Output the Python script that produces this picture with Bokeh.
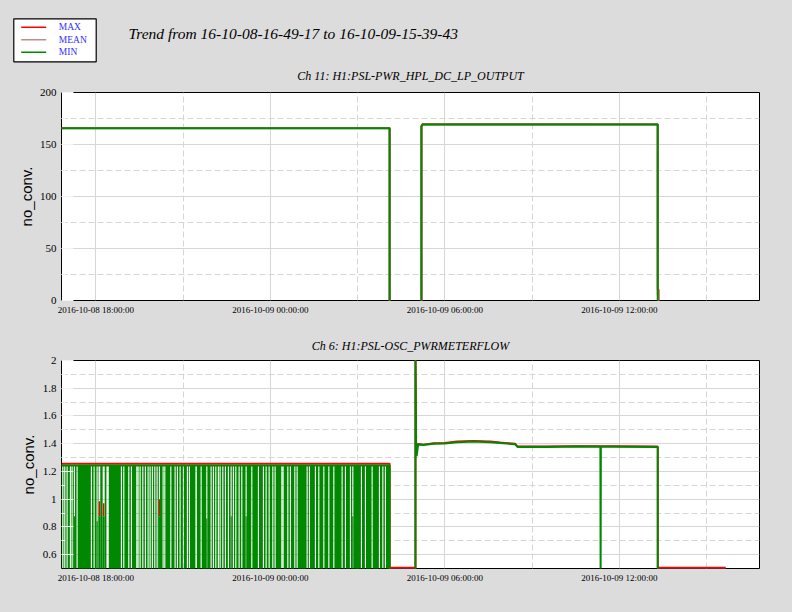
import pandas as pd
from jinja2 import Template
from bokeh.plotting import figure
from bokeh.layouts import column
from bokeh.models import Range1d, FixedTicker, DatetimeTickFormatter, ColumnDataSource
from bokeh.core.properties import value
from bokeh.embed import file_html
from bokeh.resources import INLINE

# ---------------- texts ----------------
main_title = "Trend from 16-10-08-16-49-17 to 16-10-09-15-39-43"
ch11_title = "Ch 11: H1:PSL-PWR_HPL_DC_LP_OUTPUT"
ch6_title = "Ch 6: H1:PSL-OSC_PWRMETERFLOW"
y_label = "no_conv."
legend_labels = ["MAX", "MEAN", "MIN"]

# ---------------- time axis ----------------
t_start = "2016-10-08 16:49:17"
t_range_end = "2016-10-09 16:49:17"
x_major_ticks = ["2016-10-08 18:00:00", "2016-10-09 00:00:00",
                 "2016-10-09 06:00:00", "2016-10-09 12:00:00"]
x_minor_ticks = ["2016-10-08 21:00:00", "2016-10-09 03:00:00",
                 "2016-10-09 09:00:00", "2016-10-09 15:00:00"]

# ---------------- Ch 11 ----------------
ch11_y_ticks = [0, 50, 100, 150, 200]
ch11_y_minor = [25, 75, 125, 175]
ch11_time = ["2016-10-08 16:49:17", "2016-10-09 04:06:15", "2016-10-09 04:06:16",
             "2016-10-09 05:11:50", "2016-10-09 05:11:51", "2016-10-09 05:14:00",
             "2016-10-09 13:19:20", "2016-10-09 13:19:21", "2016-10-09 13:21:00",
             "2016-10-09 13:21:01", "2016-10-09 15:39:43"]
ch11_max = [165.8, 165.8, -1.5, -1.5, 167.6, 169.4, 169.5, 10.6, 10.6, -1.5, -1.5]
ch11_mean = [165.7, 165.7, -1.5, -1.5, 167.5, 169.3, 169.4, 5.0, 5.0, -1.5, -1.5]
ch11_min = [165.6, 165.6, -1.5, -1.5, 167.4, 169.2, 169.3, -1.5, -1.5, -1.5, -1.5]

# ---------------- Ch 6 ----------------
ch6_y_ticks = [0.6, 0.8, 1.0, 1.2, 1.4, 1.6, 1.8, 2.0]
ch6_y_minor = [0.7, 0.9, 1.1, 1.3, 1.5, 1.7, 1.9]
ch6_time = ["2016-10-08 16:49:17", "2016-10-09 04:06:16", "2016-10-09 04:06:17",
            "2016-10-09 04:59:32", "2016-10-09 04:59:33", "2016-10-09 05:00:55",
            "2016-10-09 05:02:00", "2016-10-09 05:05:00", "2016-10-09 05:16:00",
            "2016-10-09 05:37:00", "2016-10-09 06:00:00", "2016-10-09 06:25:00",
            "2016-10-09 06:59:00", "2016-10-09 07:34:00", "2016-10-09 07:54:00",
            "2016-10-09 08:25:00", "2016-10-09 08:30:00", "2016-10-09 09:30:00",
            "2016-10-09 10:39:00", "2016-10-09 11:21:00", "2016-10-09 11:21:30",
            "2016-10-09 11:22:00", "2016-10-09 11:48:00", "2016-10-09 13:17:00",
            "2016-10-09 13:19:20", "2016-10-09 13:19:21", "2016-10-09 15:39:43"]
ch6_max = [1.257, 1.257, 0.506, 0.506, 2.05, 1.388, 1.390, 1.398, 1.394, 1.404,
           1.406, 1.416, 1.420, 1.416, 1.409, 1.400, 1.381, 1.381, 1.383, 1.382,
           1.382, 1.382, 1.382, 1.380, 1.380, 0.506, 0.506]
ch6_mean = [1.247, 1.247, 0.497, 0.497, 2.05, 1.385, 1.36, 1.396, 1.392, 1.402,
            1.403, 1.413, 1.418, 1.413, 1.407, 1.398, 1.379, 1.379, 1.381, 1.380,
            1.380, 1.380, 1.380, 1.378, 1.378, 0.497, 0.497]
ch6_min = [1.242, 1.242, 0.490, 0.490, 2.05, 1.382, 1.310, 1.394, 1.390, 1.400,
           1.401, 1.411, 1.416, 1.411, 1.405, 1.396, 1.377, 1.377, 1.379, 1.378,
           0.490, 1.378, 1.378, 1.376, 1.376, 0.490, 0.490]

# MIN dropouts during the first run (hours after start): MIN falls to the floor
# everywhere in [0, ch6_dropout_end_h] except at these short "no dropout" gaps.
ch6_dropout_end_h = 11.283
ch6_min_low = 0.45
ch6_gap_hours = [0.045, 0.113, 0.193, 0.306, 0.365, 0.444, 0.536, 1.028, 1.121, 1.224,
                 1.303, 1.450, 1.585, 2.060, 2.142, 2.314, 2.404, 2.589, 2.634, 2.703,
                 2.796, 2.885, 2.978, 3.047, 3.126, 3.208, 3.287, 3.367, 3.494, 3.552,
                 3.759, 3.906, 3.986, 4.078, 4.192, 4.329, 4.398, 4.629, 4.801, 4.997,
                 5.144, 5.224, 5.306, 5.395, 5.454, 5.547, 5.636, 5.739, 5.832, 5.911,
                 5.994, 6.107, 6.200, 6.348, 6.544, 6.771, 6.943, 7.036, 7.139, 7.266,
                 7.345, 7.576, 7.620, 7.782, 7.871, 8.023, 8.102, 8.446, 8.525, 8.731,
                 8.848, 9.020, 9.192, 9.364, 9.649, 9.763, 9.935, 10.017, 10.313, 10.451,
                 10.681, 10.932, 11.049, 11.138]
ch6_wide_gaps = {1.303: 0.06, 1.450: 0.07, 1.585: 0.08, 4.629: 0.05}
ch6_gap_default_w = 0.038
# gaps where MIN only drops part of the way (value it reaches)
ch6_partial_floor = {0.444: 0.877, 1.224: 0.84, 1.303: 0.877, 1.450: 0.877,
                     3.367: 0.877, 4.997: 0.86, 5.832: 0.877, 6.348: 0.877, 10.017: 0.877}
# MAX dips inside some gaps (value reached)
ch6_max_dips = {1.303: 0.985, 1.450: 0.97, 3.367: 1.0}

# ---------------- style ----------------
BG = "#dcdcdc"
RED = "#ff0000"
MEANC = "#c08c8c"
GREEN = "#008800"
GRID = "#d6d6d6"
SERIF = "Liberation Serif"
SANS = "Liberation Sans"
W = 792

T0 = pd.Timestamp(t_start)


def ms(ts):
    return [pd.Timestamp(t).value // 10**6 for t in ts]


def at_hours(h):
    return T0 + pd.to_timedelta(h, unit="h")


def make_plot(title, height, b_top, b_bottom, yr, yt, ym, lab_standoff, t_standoff):
    p = figure(width=W, height=height, x_axis_type="datetime",
               x_range=Range1d(pd.Timestamp(t_start), pd.Timestamp(t_range_end)),
               y_range=Range1d(*yr), output_backend="svg", toolbar_location=None,
               min_border_left=61, min_border_right=33,
               min_border_top=b_top, min_border_bottom=b_bottom,
               border_fill_color=BG, background_fill_color="white",
               outline_line_color="black", outline_line_width=1)
    if title is None:
        p.title = None
    else:
        p.title.text = title
        p.title.align = "center"
        p.title.text_font = SERIF
        p.title.text_font_style = "italic"
        p.title.text_font_size = "12px"
        p.title.text_color = "black"
        p.title.standoff = t_standoff

    p.xaxis.ticker = FixedTicker(ticks=ms(x_major_ticks), minor_ticks=ms(x_minor_ticks))
    fmt = "%Y-%m-%d %H:%M:%S"
    p.xaxis.formatter = DatetimeTickFormatter(
        microseconds=fmt, milliseconds=fmt, seconds=fmt, minsec=fmt, minutes=fmt,
        hourmin=fmt, hours=fmt, days=fmt, months=fmt, years=fmt)
    p.yaxis.ticker = FixedTicker(ticks=yt, minor_ticks=ym)

    p.axis.axis_line_color = None
    p.xaxis.major_tick_in = 0
    p.xaxis.major_tick_out = 0
    p.xaxis.minor_tick_in = 0
    p.xaxis.minor_tick_out = 0
    p.yaxis.major_tick_in = 12
    p.yaxis.major_tick_out = 0
    p.yaxis.minor_tick_in = 4
    p.yaxis.minor_tick_out = 0
    p.yaxis.major_tick_line_color = "#f2f2f2"
    p.yaxis.minor_tick_line_color = "#f2f2f2"

    p.xaxis.major_label_text_font = SERIF
    p.xaxis.major_label_text_font_size = "9px"
    p.xaxis.major_label_standoff = 4
    p.yaxis.major_label_text_font = SERIF
    p.yaxis.major_label_text_font_size = "11px"
    p.yaxis.major_label_standoff = 5
    p.axis.major_label_text_color = "black"

    p.yaxis.axis_label = y_label
    p.yaxis.axis_label_text_font = SANS
    p.yaxis.axis_label_text_font_style = "normal"
    p.yaxis.axis_label_text_font_size = "15px"
    p.yaxis.axis_label_text_color = "black"
    p.yaxis.axis_label_standoff = lab_standoff

    for g in (p.xgrid, p.ygrid):
        g.grid_line_color = GRID
        g.grid_line_width = 1
        g.minor_grid_line_color = GRID
        g.minor_grid_line_dash = "6 3"
        g.minor_grid_line_width = 1
    return p


# ---------------- header (legend, main title, Ch 11 title) ----------------
HDR_H = 84
hdr = figure(width=W, height=HDR_H, x_range=Range1d(0, W), y_range=Range1d(HDR_H, 0),
             x_axis_type=None, y_axis_type=None, output_backend="svg",
             toolbar_location=None, min_border=0, min_border_left=0, min_border_right=0,
             min_border_top=0, min_border_bottom=0, border_fill_color=BG,
             background_fill_color=BG, outline_line_color=None)
hdr.frame_align = False
hdr.quad(left=[13.3], right=[95.7], top=[18.3], bottom=[61.3],
         fill_color="white", line_color="black", line_width=1.2)
leg_y = [26.7, 39.3, 51.7]
hdr.segment(x0=[20.7] * 3, x1=[45.7] * 3, y0=leg_y, y1=leg_y,
            line_color=[RED, MEANC, GREEN], line_width=1.5)
hdr.text(x=[58.3] * 3, y=leg_y, text=legend_labels, text_font=value(SERIF),
         text_font_size="9.5px", text_color="#3030ff", text_baseline="middle",
         text_align="left")
hdr.text(x=[128], y=[33], text=[main_title], text_font=value(SERIF),
         text_font_style="italic", text_font_size="15.5px", text_color="black",
         text_baseline="middle", text_align="left")
hdr.text(x=[410], y=[75], text=[ch11_title], text_font=value(SERIF),
         text_font_style="italic", text_font_size="12px", text_color="black",
         text_baseline="middle", text_align="center")

# ---------------- Ch 11 plot ----------------
p1 = make_plot(None, 244, 8, 28, (0, 200), ch11_y_ticks, ch11_y_minor, 2, 0)
s11 = ColumnDataSource(dict(t=pd.to_datetime(ch11_time), mx=ch11_max, mn=ch11_mean, mi=ch11_min))
p1.line("t", "mx", source=s11, line_color=RED, line_width=2)
p1.line("t", "mn", source=s11, line_color=MEANC, line_width=2)
p1.line("t", "mi", source=s11, line_color=GREEN, line_width=2)

# ---------------- Ch 6 plot ----------------
p2 = make_plot(ch6_title, 282, 32, 42, (0.5, 2.0), ch6_y_ticks, ch6_y_minor, 3, 16)
s6 = ColumnDataSource(dict(t=pd.to_datetime(ch6_time), mx=ch6_max, mn=ch6_mean, mi=ch6_min))
p2.line("t", "mn", source=s6, line_color=MEANC, line_width=1.5)
p2.line("t", "mx", source=s6, line_color=RED, line_width=1.8)

# dropout bands of MIN (complement of the gaps)
lefts, rights = [], []
cur = 0.0
for c in ch6_gap_hours:
    w = ch6_wide_gaps.get(c, ch6_gap_default_w)
    if c - w / 2 > cur:
        lefts.append(cur)
        rights.append(c - w / 2)
    cur = c + w / 2
lefts.append(cur)
rights.append(ch6_dropout_end_h)
top_level = ch6_min[0]
band = ColumnDataSource(dict(l=at_hours(lefts), r=at_hours(rights),
                             b=[ch6_min_low] * len(lefts), tp=[top_level] * len(lefts)))

# partial drops inside gaps
pl, pr, pt = [], [], []
for c, fl in ch6_partial_floor.items():
    w = ch6_wide_gaps.get(c, ch6_gap_default_w)
    pl.append(c - w / 2)
    pr.append(c + w / 2)
    pt.append(fl)
part = ColumnDataSource(dict(l=at_hours(pl), r=at_hours(pr), b=[ch6_min_low] * len(pl), tp=pt))

# MAX dips inside gaps
dx = list(ch6_max_dips.keys())
dips = ColumnDataSource(dict(x=at_hours(dx), y0=[ch6_partial_floor[c] for c in dx],
                             y1=[ch6_max_dips[c] for c in dx]))
p2.segment(x0="x", x1="x", y0="y0", y1="y1", source=dips, line_color=RED, line_width=1.5)

p2.quad(left="l", right="r", bottom="b", top="tp", source=band,
        fill_color=GREEN, line_color=None)
p2.quad(left="l", right="r", bottom="b", top="tp", source=part,
        fill_color=GREEN, line_color=None)
p2.line("t", "mi", source=s6, line_color=GREEN, line_width=2)

layout = column(hdr, p1, p2, spacing=0, styles={"background-color": BG})

page_tpl = Template("""{% extends base %}
{% block preamble %}<style>html, body { background: #dcdcdc; }</style>{% endblock %}""")

open("out.html", "w").write(file_html(layout, INLINE, title="Trend", template=page_tpl))
